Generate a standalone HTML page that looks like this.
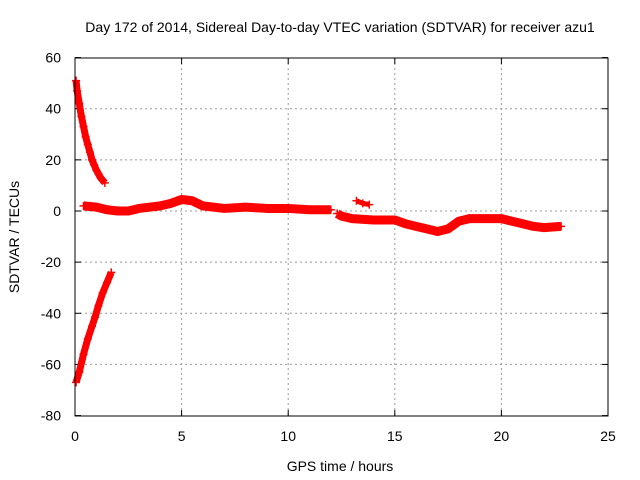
<!DOCTYPE html>
<html><head><meta charset="utf-8"><style>
body{margin:0;background:#fff;}
svg{display:block;font-family:"Liberation Sans",sans-serif;}
</style></head><body>
<svg id="chart" width="640" height="480">
<text x="340" y="32" font-size="14" text-anchor="middle">Day 172 of 2014, Sidereal Day-to-day VTEC variation (SDTVAR) for receiver azu1</text>
<text x="340" y="471" font-size="14" text-anchor="middle">GPS time / hours</text>
<text transform="translate(19,237) rotate(-90)" font-size="14" text-anchor="middle">SDTVAR / TECUs</text>
<g id="grid"></g><g id="series"></g>
<rect x="75" y="58" width="533" height="358" fill="none" stroke="#000" stroke-width="1"/>
</svg>
<script>
const xTicks=[0,5,10,15,20,25];
const yTicks=[-80,-60,-40,-20,0,20,40,60];
const upperT=[0.05,0.1,0.2,0.3,0.4,0.5,0.6,0.7,0.8,0.9,1.0,1.1,1.2,1.3,1.4];
const upperV=[51,47,42,37,33,29,26,23,20,18,16,14.5,13,12,11];
const lowerT=[0.05,0.2,0.4,0.6,0.8,0.94,1.1,1.3,1.5,1.7];
const lowerV=[-67,-63,-56,-50,-45,-41.5,-37,-32,-28,-24];
const mainT=[0.4,1,1.5,2,2.5,3,4,4.5,5,5.5,6,7,8,9,10,11,12];
const mainV=[2,1.5,0.5,0,0,1,2,3,4.5,4,2,1,1.5,1,1,0.5,0.5];
const main2T=[12.3,12.5,13,14,15,15.5,16,16.5,17,17.5,18,18.5,19,19.5,20,20.5,21,21.5,22,22.8];
const main2V=[-1,-2,-3,-3.5,-3.5,-5,-6,-7,-8,-7,-4,-3,-3,-3,-3,-4,-5,-6,-6.5,-6];
const blipT=[13.2,13.5,13.8];
const blipV=[4,3,2.5];
const X=v=>75+v*533/25, Y=v=>211-v*358/140;
const ns="http://www.w3.org/2000/svg";
const grid=document.getElementById('grid'), ser=document.getElementById('series');
function mk(tag,attrs,parent){const e=document.createElementNS(ns,tag);for(const k in attrs)e.setAttribute(k,attrs[k]);parent.appendChild(e);return e;}
xTicks.forEach(t=>{
 if(t>0&&t<25){const l=mk('line',{x1:X(t),x2:X(t),y1:58,y2:416,stroke:'#999','stroke-dasharray':'2,3'},grid);
 
 }
 const tx=mk('text',{x:X(t),y:441,'font-size':14,'text-anchor':'middle'},grid);tx.textContent=t;
 
 
 mk('line',{x1:X(t),x2:X(t),y1:416,y2:410,stroke:'#000'},grid);mk('line',{x1:X(t),x2:X(t),y1:58,y2:64,stroke:'#000'},grid);
});
yTicks.forEach(v=>{
 if(v>-80&&v<60){const l=mk('line',{x1:75,x2:608,y1:Y(v),y2:Y(v),stroke:'#999','stroke-dasharray':'2,3'},grid);
 
 }
 const tx=mk('text',{x:61,y:Y(v)+5,'font-size':14,'text-anchor':'end'},grid);tx.textContent=v;
 
 
 mk('line',{x1:75,x2:81,y1:Y(v),y2:Y(v),stroke:'#000'},grid);mk('line',{x1:608,x2:602,y1:Y(v),y2:Y(v),stroke:'#000'},grid);
});
function series(T,V,w,name){
 const p=mk('polyline',{points:T.map((t,i)=>X(t)+','+Y(V[i])).join(' '),fill:'none',stroke:'#f00','stroke-width':w,'stroke-linejoin':'round'},ser);
 
 
 T.forEach((t,i)=>{const x=X(t),y=Y(V[i]);mk('path',{d:`M${x-4},${y}h8M${x},${y-4}v8`,stroke:'#f00','stroke-width':1.5},ser);});
}
series(upperT,upperV,7,'series-upper-branch');
series(lowerT,lowerV,7,'series-lower-branch');
series(mainT,mainV,9,'series-main');
series(main2T,main2V,9,'series-main-late');
series(blipT,blipV,5,'series-blip');
</script>
</body></html>
